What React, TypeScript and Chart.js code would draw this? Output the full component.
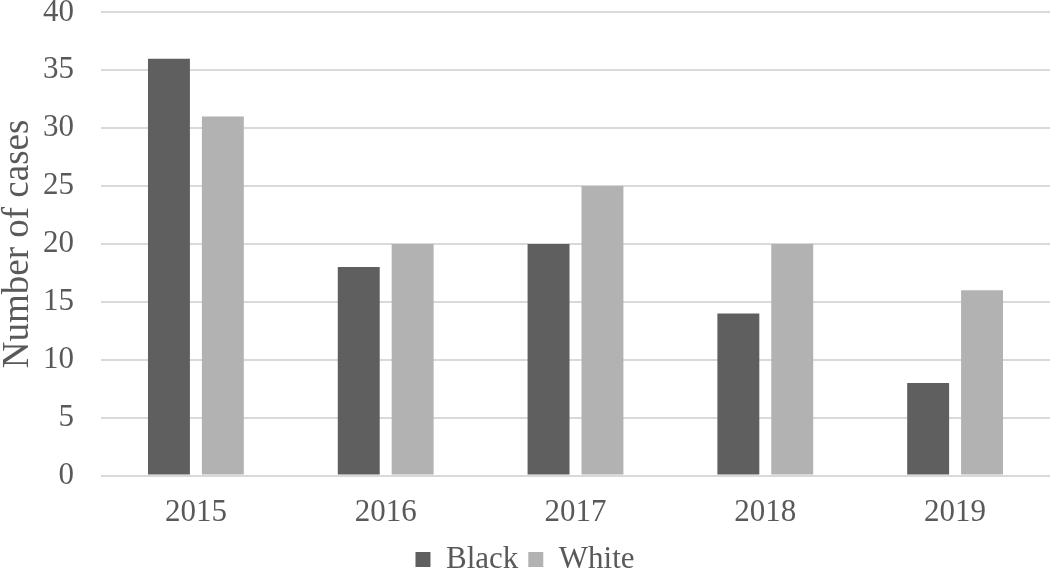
import React, { useEffect, useRef } from "react";
import { Chart, registerables } from "chart.js";
Chart.register(...registerables);

const categories = ["2015", "2016", "2017", "2018", "2019"];
const blackValues = [36, 18, 20, 14, 8];
const whiteValues = [31, 20, 25, 20, 16];
const yTicks = [0, 5, 10, 15, 20, 25, 30, 35, 40];

export default function App() {
  const ref = useRef<HTMLCanvasElement>(null);
  useEffect(() => {
    document.body.style.margin = "0";
    const ctx = ref.current!;
    const chart = new Chart(ctx, {
      type: "bar",
      data: {
        labels: categories,
        datasets: [
          { label: "Black", data: blackValues, backgroundColor: "#5f5f5f", categoryPercentage: 0.568, barPercentage: 0.778 },
          { label: "White", data: whiteValues, backgroundColor: "#b2b2b2", categoryPercentage: 0.568, barPercentage: 0.778 },
        ],
      },
      options: {
        animation: false,
        responsive: false,
        layout: { padding: { top: 0, right: 0, left: 0, bottom: -16 } },
        plugins: {
          tooltip: { enabled: false },
          legend: {
            position: "bottom",
            labels: {
              font: { family: "Liberation Serif", size: 31, lineHeight: 1 },
              color: "#595959",
              boxWidth: 15,
              boxHeight: 15,
              padding: 10,
            },
          },
        },
        scales: {
          x: {
            grid: { display: false, drawTicks: false },
            border: { display: false },
            ticks: { font: { family: "Liberation Serif", size: 31, lineHeight: 0.5 }, color: "#595959", padding: 30 },
            afterFit: (scale: any) => {
              scale.height = scale.height - 17;
            },
          },
          y: {
            min: 0,
            max: 40,
            afterBuildTicks: (axis: any) => {
              axis.ticks = yTicks.map((v) => ({ value: v }));
            },
            grid: { color: "#d9d9d9", lineWidth: 2, drawTicks: true, tickLength: 27, tickColor: "rgba(0,0,0,0)" },
            border: { display: false },
            ticks: { font: { family: "Liberation Serif", size: 31, lineHeight: 0.8 }, color: "#595959", padding: 0 },
            title: {
              display: true,
              text: "Number of cases",
              font: { family: "Liberation Serif", size: 37, lineHeight: 1 },
              color: "#595959",
              padding: { top: 0, bottom: 6 },
            },
          },
        },
      },
    });
    return () => chart.destroy();
  }, []);
  return (
    <div style={{ position: "absolute", left: 0, top: 0, width: 1050, height: 569 }}>
      <canvas ref={ref} width={1050} height={569} />
    </div>
  );
}
